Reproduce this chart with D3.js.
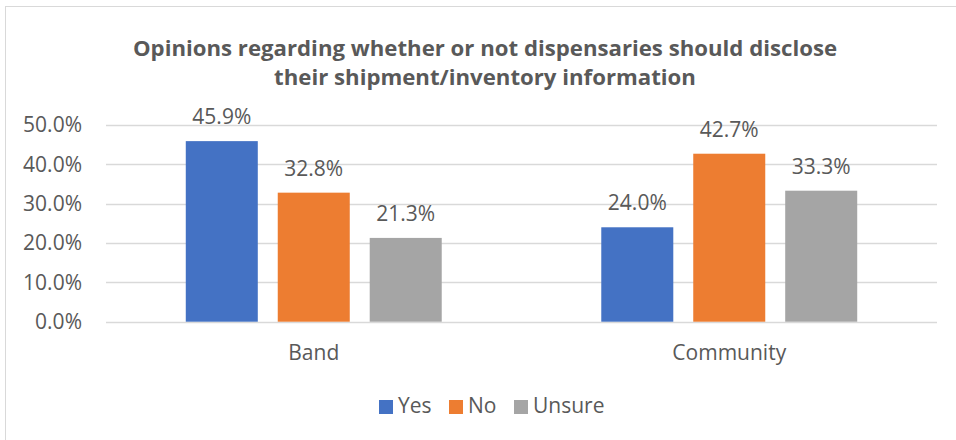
<!DOCTYPE html>
<html>
<head>
<meta charset="utf-8">
<script src="https://cdn.jsdelivr.net/npm/d3@7"></script>
<style>
  html, body { margin: 0; padding: 0; background: #fff; }
  svg { display: block; font-family: "Open Sans", "Noto Sans", sans-serif; }
</style>
</head>
<body>
<svg id="chart" width="956" height="440"></svg>
<script>
// Survey responses by group
const categories = ["Band", "Community"];
const seriesNames = ["Yes", "No", "Unsure"];
const yesValues = [45.9, 24.0];
const noValues = [32.8, 42.7];
const unsureValues = [21.3, 33.3];
const yTicks = [0, 10, 20, 30, 40, 50];
const titleLines = [
  "Opinions regarding whether or not dispensaries should disclose",
  "their shipment/inventory information"
];

const colors = { Yes: "#4472C4", No: "#ED7D31", Unsure: "#A5A5A5" };
const textColor = "#595959";
const gridColor = "#D9D9D9";

const seriesValues = { Yes: yesValues, No: noValues, Unsure: unsureValues };
const rows = categories.map((c, i) => ({
  category: c,
  values: seriesNames.map(s => ({ series: s, value: seriesValues[s][i] }))
}));

const svg = d3.select("#chart");

// Outer chart border
svg.append("rect")
  .attr("x", 5.5).attr("y", 6.5)
  .attr("width", 1000).attr("height", 1000)
  .attr("fill", "none").attr("stroke", gridColor).attr("stroke-width", 1);

// Title
const title = svg.append("text")
  .attr("text-anchor", "middle")
  .attr("fill", textColor)
  .attr("font-size", 22.2)
  .attr("font-weight", "bold");
titleLines.forEach((line, i) => {
  title.append("tspan").attr("x", 485).attr("y", 56 + i * 29).text(line);
});

// Plot area
const plot = { left: 106, right: 937, top: 125, bottom: 321.7 };

const y = d3.scaleLinear().domain([0, 50]).range([plot.bottom, plot.top]);

const x0 = d3.scaleBand().domain(categories).range([plot.left, plot.right]).padding(0);
const groupWidth = x0.bandwidth() * 0.616;
const x1 = d3.scaleBand().domain(seriesNames)
  .range([-groupWidth / 2, groupWidth / 2])
  .paddingInner(0.217).paddingOuter(0);

// Gridlines
svg.append("g")
  .selectAll("line")
  .data(yTicks)
  .join("line")
  .attr("x1", plot.left).attr("x2", plot.right)
  .attr("y1", d => Math.round(y(d)) + 0.5).attr("y2", d => Math.round(y(d)) + 0.5)
  .attr("stroke", gridColor).attr("stroke-width", 1.3);

// Y axis labels
const yAxis = d3.axisLeft(y).tickValues(yTicks).tickSize(0).tickPadding(0)
  .tickFormat(d => d3.format(".1f")(d) + "%");
const yG = svg.append("g").attr("transform", `translate(82,0)`).call(yAxis);
yG.select(".domain").remove();
yG.selectAll("text")
  .attr("fill", textColor)
  .attr("font-size", 21)
  .attr("font-family", "'Open Sans', 'Noto Sans', sans-serif");

// Bars
const groups = svg.append("g")
  .selectAll("g")
  .data(rows)
  .join("g")
  .attr("transform", d => `translate(${x0(d.category) + x0.bandwidth() / 2},0)`);

groups.selectAll("rect")
  .data(d => d.values)
  .join("rect")
  .attr("x", d => x1(d.series))
  .attr("width", x1.bandwidth())
  .attr("y", d => y(d.value))
  .attr("height", d => y(0) - y(d.value))
  .attr("fill", d => colors[d.series]);

// Value labels
groups.selectAll("text")
  .data(d => d.values)
  .join("text")
  .attr("x", d => x1(d.series) + x1.bandwidth() / 2)
  .attr("y", d => y(d.value) - 17)
  .attr("text-anchor", "middle")
  .attr("fill", textColor)
  .attr("font-size", 21)
  .text(d => d.value.toFixed(1) + "%");

// Category axis labels
const xAxis = d3.axisBottom(x0).tickSize(0).tickPadding(0);
const xG = svg.append("g").attr("transform", `translate(0,${plot.bottom})`).call(xAxis);
xG.select(".domain").remove();
xG.selectAll("text")
  .attr("dy", null)
  .attr("y", 38)
  .attr("fill", textColor)
  .attr("font-size", 21)
  .attr("font-family", "'Open Sans', 'Noto Sans', sans-serif");

// Legend
const legendItems = [
  { name: "Yes", x: 379 },
  { name: "No", x: 449 },
  { name: "Unsure", x: 514 }
];
const legend = svg.append("g").selectAll("g")
  .data(legendItems)
  .join("g")
  .attr("transform", d => `translate(${d.x},400)`);
legend.append("rect")
  .attr("width", 14).attr("height", 14)
  .attr("fill", d => colors[d.name]);
legend.append("text")
  .attr("x", 19).attr("y", 13)
  .attr("fill", textColor)
  .attr("font-size", 21)
  .text(d => d.name);
</script>
</body>
</html>
